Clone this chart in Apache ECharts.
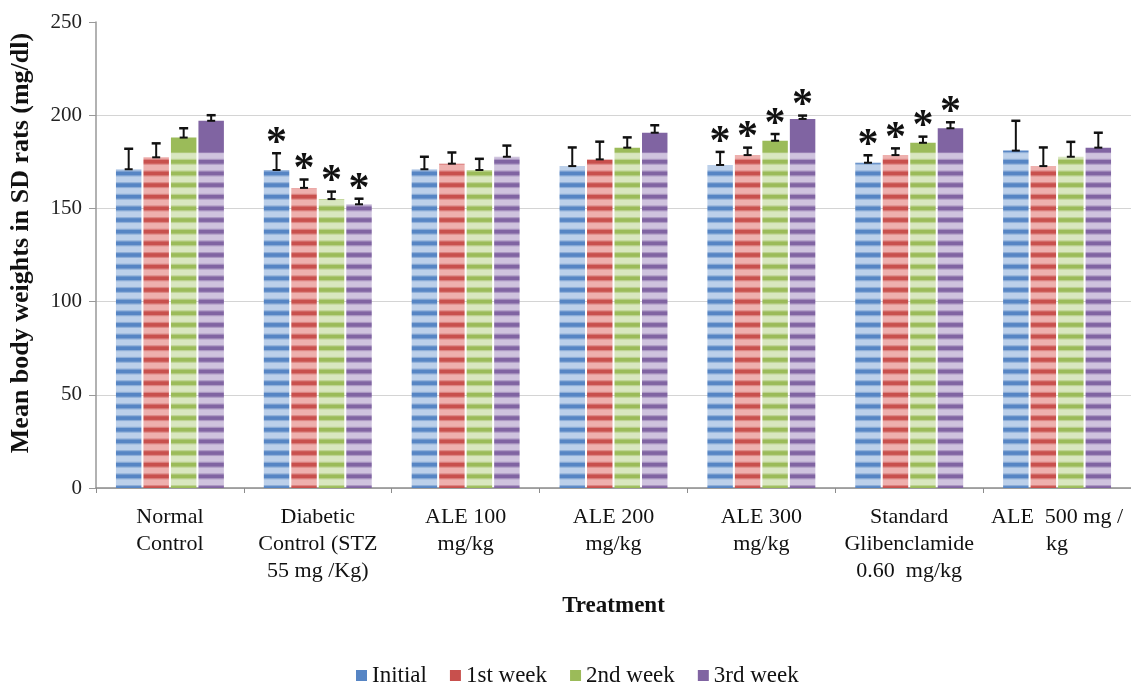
<!DOCTYPE html>
<html>
<head>
<meta charset="utf-8">
<script src="https://cdn.jsdelivr.net/npm/echarts@6/dist/echarts.min.js"></script>
<style>
html,body{margin:0;padding:0;background:#fff;}
#chart{width:1131px;height:682px;}
</style>
</head>
<body>
<div id="chart"></div>
<script>
const categories = ['Normal\nControl', 'Diabetic\nControl (STZ\n55 mg /Kg)', 'ALE 100\nmg/kg', 'ALE 200\nmg/kg', 'ALE 300\nmg/kg', 'Standard\nGlibenclamide\n0.60  mg/kg', 'ALE  500 mg /\nkg'];
const seriesNames = ['Initial', '1st week', '2nd week', '3rd week'];
const initial = [171, 170.6, 171, 172.7, 173.3, 174.5, 181];
const week1 = [177.4, 161, 174, 176.3, 178.6, 178.6, 172.7];
const week2 = [188, 155, 170.6, 182.6, 186.3, 185.2, 177.7];
const week3 = [197, 152.2, 177.7, 190.6, 198, 193, 182.6];
const errInitial = [11, 9, 6.7, 10, 7, 4, 16];
const errWeek1 = [7.5, 4.5, 6, 9.5, 4, 3.6, 10];
const errWeek2 = [5, 4, 6, 5.5, 3.6, 3.3, 8];
const errWeek3 = [3, 3, 6, 4, 1.8, 3.2, 8];
const sigInitial = [0, 1, 0, 0, 1, 1, 0];
const sigWeek1 = [0, 1, 0, 0, 1, 1, 0];
const sigWeek2 = [0, 1, 0, 0, 1, 1, 0];
const sigWeek3 = [0, 1, 0, 0, 1, 1, 0];
const yTicks = [0, 50, 100, 150, 200, 250];

const values = [initial, week1, week2, week3];
const errs = [errInitial, errWeek1, errWeek2, errWeek3];
const sigs = [sigInitial, sigWeek1, sigWeek2, sigWeek3];

const palette = [
  {light: '#bcd0ea', dark: '#5685c4', solid: null},
  {light: '#eeb0ae', dark: '#c8504d', solid: null},
  {light: '#d9e7c0', dark: '#9bbb59', solid: '#9bbb59'},
  {light: '#cfc3de', dark: '#8064a2', solid: '#8064a2'}
];
const FONT = '"Liberation Serif", "Times New Roman", serif';
const CAT_GAP = 0.27, BAR_GAP = 0.08;

function makePattern(p, y0, period, ySolid) {
  const c = document.createElement('canvas');
  c.width = 8; c.height = 682;
  const ctx = c.getContext('2d');
  ctx.fillStyle = p.light;
  ctx.fillRect(0, 0, 8, 682);
  for (let y = y0; y > -period; y -= period) {
    ctx.globalAlpha = 0.45;
    ctx.fillStyle = p.dark;
    ctx.fillRect(0, y - 3, 8, 6);
    ctx.globalAlpha = 1;
    ctx.fillRect(0, y - 1.8, 8, 3.6);
  }
  if (p.solid) {
    ctx.fillStyle = p.solid;
    ctx.fillRect(0, 0, 8, ySolid);
  }
  return c;
}

const errData = [];
for (let s = 0; s < 4; s++) {
  for (let i = 0; i < categories.length; i++) {
    errData.push([i, s, values[s][i], errs[s][i], sigs[s][i]]);
  }
}

const chart = echarts.init(document.getElementById('chart'), null, {renderer: 'canvas'});

function buildOption(patterns) {
  const series = seriesNames.map((name, s) => ({
    name: name,
    type: 'bar',
    data: values[s],
    barCategoryGap: (CAT_GAP * 100) + '%',
    barGap: (BAR_GAP * 100) + '%',
    itemStyle: {color: patterns ? {image: patterns[s], repeat: 'repeat'} : palette[s].light},
    z: 2
  }));
  series.push({
    type: 'custom',
    name: 'err',
    data: errData,
    encode: {x: 0, y: 2},
    z: 5,
    clip: false,
    silent: true,
    renderItem: function (params, api) {
      const cat = api.value(0), si = api.value(1), val = api.value(2), err = api.value(3), sig = api.value(4);
      const bandW = api.size([1, 0])[0];
      const n = 4;
      const bw = bandW * (1 - CAT_GAP) / (n + (n - 1) * BAR_GAP);
      const total = n * bw + (n - 1) * BAR_GAP * bw;
      const xC = api.coord([cat, 0])[0] - total / 2 + si * bw * (1 + BAR_GAP) + bw / 2;
      const yTop = api.coord([cat, val])[1];
      const yErr = api.coord([cat, val + err])[1];
      const children = [
        {type: 'line', shape: {x1: xC, y1: yTop, x2: xC, y2: yErr}, style: {stroke: '#111', lineWidth: 2}},
        {type: 'line', shape: {x1: xC - 4.5, y1: yErr, x2: xC + 4.5, y2: yErr}, style: {stroke: '#111', lineWidth: 2.5}},
        {type: 'line', shape: {x1: xC - 4, y1: yTop, x2: xC + 4, y2: yTop}, style: {stroke: '#111', lineWidth: 2}}
      ];
      if (sig) {
        children.push({type: 'text', style: {text: '*', x: xC, y: yErr - 9, fontSize: 42, fontWeight: 'bold', fontFamily: FONT, align: 'center', verticalAlign: 'middle', fill: '#111'}});
      }
      return {type: 'group', children: children};
    }
  });
  return {
    animation: false,
    backgroundColor: '#fff',
    grid: {left: 96, right: 0, top: 22, bottom: 194, containLabel: false},
    legend: {
      left: 351, top: 659,
      itemWidth: 11, itemHeight: 11, itemGap: 23,
      icon: 'rect',
      textStyle: {fontFamily: FONT, fontSize: 23, color: '#111'},
      data: seriesNames.map((n, s) => ({name: n, itemStyle: {color: palette[s].dark}}))
    },
    xAxis: {
      type: 'category',
      data: categories,
      name: 'Treatment',
      nameLocation: 'middle',
      nameGap: 107,
      nameTextStyle: {fontFamily: FONT, fontSize: 23, fontWeight: 'bold', color: '#111'},
      axisLine: {lineStyle: {color: '#8c8c8c', width: 1.5}},
      axisTick: {show: true, length: 5, lineStyle: {color: '#8c8c8c'}},
      axisLabel: {fontFamily: FONT, fontSize: 22, lineHeight: 27, color: '#111', margin: 16, interval: 0}
    },
    yAxis: {
      type: 'value',
      min: yTicks[0], max: yTicks[yTicks.length - 1], interval: 50,
      name: 'Mean body weights in SD rats (mg/dl)',
      nameLocation: 'middle',
      nameGap: 62,
      nameTextStyle: {fontFamily: FONT, fontSize: 26, fontWeight: 'bold', color: '#111', padding: [0, 0, 0, 24]},
      axisLine: {show: true, lineStyle: {color: '#999', width: 1.5}},
      axisTick: {show: true, length: 7, lineStyle: {color: '#999'}},
      axisLabel: {fontFamily: FONT, fontSize: 21, color: '#222', margin: 14},
      splitLine: {show: true, showMaxLine: false, lineStyle: {color: '#d4d4d4', width: 1.2}}
    },
    series: series
  };
}

chart.setOption(buildOption(null));
const y0 = chart.convertToPixel({yAxisIndex: 0}, 0);
const yStep = y0 - chart.convertToPixel({yAxisIndex: 0}, 6.25);
const ySolid = chart.convertToPixel({yAxisIndex: 0}, 180);
const patterns = palette.map(p => makePattern(p, y0, yStep, ySolid));
chart.setOption(buildOption(patterns), true);
</script>
</body>
</html>
